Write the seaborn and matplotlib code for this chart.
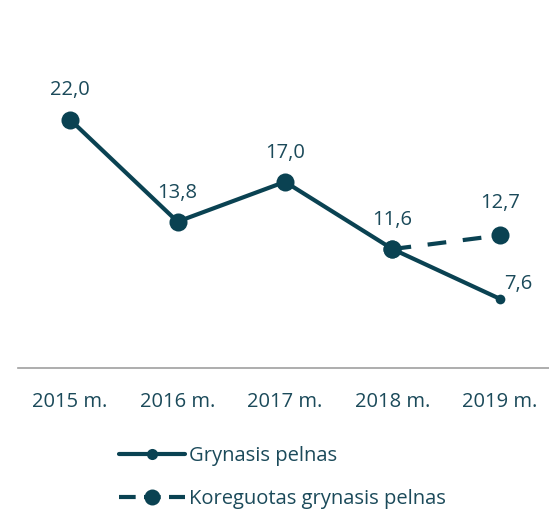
import pandas as pd
import numpy as np
import matplotlib.pyplot as plt
import seaborn as sns
from matplotlib.lines import Line2D

# chart data
years = ['2015 m.', '2016 m.', '2017 m.', '2018 m.', '2019 m.']
net_profit = [22.0, 13.8, 17.0, 11.6, 7.6]
adjusted_profit = [np.nan, np.nan, np.nan, 11.6, 12.7]
label_net = 'Grynasis pelnas'
label_adj = 'Koreguotas grynasis pelnas'

color = '#0a4252'
text_color = '#1b4a5a'
fs = 14.5

sns.set_style('white')
plt.rcParams['font.family'] = ['Open Sans', 'DejaVu Sans']

df = pd.DataFrame({'x': range(len(years)), 'net': net_profit, 'adj': adjusted_profit})

fig = plt.figure(figsize=(5.49, 5.14), dpi=100)
ax = fig.add_axes([18 / 549, 1 - 368 / 514, 531 / 549, 368 / 514])

# main series: big markers except the last point
sns.lineplot(data=df, x='x', y='net', ax=ax, color=color, linewidth=3,
             marker='o', markersize=13, markeredgewidth=0, markevery=[0, 1, 2, 3])
sns.lineplot(data=df.iloc[[4]], x='x', y='net', ax=ax, color=color,
             marker='o', markersize=7, markeredgewidth=0)
# adjusted series
sns.lineplot(data=df.dropna(), x='x', y='adj', ax=ax, color=color, linewidth=3,
             linestyle=(0, (4.5, 4)), marker='o', markersize=13, markeredgewidth=0)

# value labels
fmt = lambda v: f'{v:.1f}'.replace('.', ',')
for i, v in enumerate(net_profit):
    if i == 4:
        ax.annotate(fmt(v), (i, v), xytext=(13, 11), textcoords='offset points',
                    ha='center', va='center', fontsize=fs, color=text_color)
    else:
        ax.annotate(fmt(v), (i, v), xytext=(0, 21), textcoords='offset points',
                    ha='center', va='center', fontsize=fs, color=text_color)
ax.annotate(fmt(adjusted_profit[4]), (4, adjusted_profit[4]), xytext=(0, 23),
            textcoords='offset points', ha='center', va='center', fontsize=fs, color=text_color)

ax.set_xlim(-0.484, 4.456)
ax.set_ylim(2.05, 31.6)
ax.set_xticks(range(len(years)))
ax.set_xticklabels(years, fontsize=fs, color=text_color)
ax.tick_params(axis='x', length=0, pad=17)
ax.set_yticks([])
ax.set_xlabel('')
ax.set_ylabel('')
for s in ['top', 'left', 'right']:
    ax.spines[s].set_visible(False)
ax.spines['bottom'].set_color('#a0a0a0')
ax.spines['bottom'].set_linewidth(1.2)

# legend
handles = [
    Line2D([], [], color=color, linewidth=3, marker='o', markersize=8, markeredgewidth=0),
    Line2D([], [], color=color, linewidth=3, linestyle=(0, (4, 2)), marker='o',
           markersize=11.5, markeredgewidth=0),
]
leg = fig.legend(handles, [label_net, label_adj], loc='upper left',
                 bbox_to_anchor=(101 / 549, 1 - 428 / 514), frameon=False,
                 fontsize=fs, handlelength=3.25, handletextpad=0.2, labelspacing=1.15)
for t in leg.get_texts():
    t.set_color(text_color)

fig.savefig('out.png', dpi=100)
